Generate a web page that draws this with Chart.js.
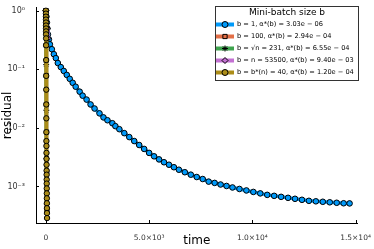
<!DOCTYPE html>
<html lang="en">
<head>
<meta charset="UTF-8">
<title>Residual vs time</title>
<script src="https://cdn.jsdelivr.net/npm/chart.js"></script>
<style>
    body { margin: 0; background: #fff; }
</style>
</head>
<body>
<canvas id="residualChart" width="374" height="249"></canvas>
<script>
// b = 1
const blueTime = [0, 24, 48, 72, 96, 144, 192, 288, 385, 481, 577, 721, 865, 1010, 1154, 1298, 1442, 1635,
    1779, 1971, 2164, 2356, 2596, 2789, 2981, 3221, 3366, 3558, 3798, 4039, 4279, 4519, 4760, 5000, 5241,
    5481, 5722, 5962, 6202, 6443, 6731, 7020, 7308, 7597, 7885, 8174, 8462, 8751, 9039, 9376, 9712, 10049,
    10385, 10722, 11058, 11395, 11732, 12068, 12405, 12741, 13078, 13414, 13751, 14087, 14424, 14712];
const blueResidual = [1.0, 0.792, 0.628, 0.497, 0.394, 0.324, 0.267, 0.220, 0.181, 0.155, 0.128, 0.109,
    0.0937, 0.0802, 0.0687, 0.0588, 0.0504, 0.0415, 0.0355, 0.0304, 0.0251, 0.0214, 0.0177, 0.0151, 0.0135,
    0.0120, 0.0107, 0.0095, 0.00813, 0.00696, 0.00596, 0.00510, 0.00437, 0.00374, 0.00327, 0.00290, 0.00259,
    0.00235, 0.00213, 0.00193, 0.00175, 0.00159, 0.00145, 0.00134, 0.00121, 0.00115, 0.00108, 0.00102,
    0.000962, 0.000907, 0.000856, 0.000807, 0.000762, 0.000719, 0.000692, 0.000665, 0.000640, 0.000616,
    0.000592, 0.000569, 0.000558, 0.000548, 0.000537, 0.000527, 0.000517, 0.000514];

// b = 100
const orangeTime = [0, 4, 10, 16, 22, 30, 40, 50];
const orangeResidual = [1.0, 0.55, 0.257, 0.078, 0.025, 0.0085, 0.0018, 0.00040];

// b = sqrt(n) = 231
const greenTime = [0, 6, 12, 20, 30, 44];
const greenResidual = [1.0, 0.40, 0.12, 0.020, 0.0030, 0.00050];

// b = n = 53500
const purpleTime = [0, 60, 96];
const purpleResidual = [1.0, 0.50, 0.337];

// b = b*(n) = 40
const goldTime = [0, 1, 2, 3, 4, 5, 6, 7, 8, 9, 10, 12, 14, 16, 18, 20, 22, 24, 26, 28, 30, 32, 34, 36,
    38, 40, 42, 44, 46, 48, 50, 52, 54];
const goldResidual = [1.0, 0.89, 0.79, 0.705, 0.628, 0.558, 0.497, 0.443, 0.394, 0.337, 0.257, 0.1436,
    0.0772, 0.0449, 0.0251, 0.01455, 0.00845, 0.00596, 0.00491, 0.00374, 0.00296, 0.00235, 0.00186,
    0.00159, 0.00131, 0.00112, 0.000925, 0.000762, 0.000628, 0.000517, 0.000426, 0.000351, 0.000289];

const legendLabels = [
    'b = 1, α*(b) = 3.03e − 06',
    'b = 100, α*(b) = 2.94e − 04',
    'b = √n = 231, α*(b) = 6.55e − 04',
    'b = n = 53500, α*(b) = 9.40e − 03',
    'b = b*(n) = 40, α*(b) = 1.20e − 04'
];
const legendTitle = 'Mini-batch size b';

const xTicks = [0, 5000, 10000, 15000];
const xTickLabels = ['0', '5.0×10³', '1.0×10⁴', '1.5×10⁴'];
const yTicks = [1e-3, 1e-2, 1e-1, 1];
const yTickLabels = ['10⁻³', '10⁻²', '10⁻¹', '10⁰'];

const pts = (t, r) => t.map((v, i) => ({ x: v, y: r[i] }));

function series(label, t, r, color, style, radius, order) {
    return {
        label: label,
        data: pts(t, r),
        showLine: true,
        borderColor: color,
        backgroundColor: color,
        borderWidth: 3.5,
        pointStyle: style,
        pointRadius: radius,
        pointBorderColor: '#000',
        pointBackgroundColor: color,
        pointBorderWidth: 1,
        order: order
    };
}

const decor = {
    id: 'decor',
    afterDraw(chart) {
        const ctx = chart.ctx;
        const a = chart.chartArea;
        const xs = chart.scales.x, ys = chart.scales.y;
        ctx.save();

        // inward tick marks
        ctx.strokeStyle = '#000';
        ctx.lineWidth = 1;
        xTicks.forEach(v => {
            const px = Math.round(xs.getPixelForValue(v)) + 0.5;
            ctx.beginPath(); ctx.moveTo(px, a.bottom); ctx.lineTo(px, a.bottom - 3); ctx.stroke();
        });
        yTicks.forEach(v => {
            const py = Math.round(ys.getPixelForValue(v)) + 0.5;
            ctx.beginPath(); ctx.moveTo(a.left, py); ctx.lineTo(a.left + 3, py); ctx.stroke();
        });

        // axis titles
        ctx.fillStyle = '#000';
        ctx.font = '12px "DejaVu Sans"';
        ctx.textAlign = 'center';
        ctx.textBaseline = 'middle';
        ctx.fillText('time', (a.left + a.right) / 2, 241);
        ctx.save();
        ctx.translate(8, (a.top + a.bottom) / 2);
        ctx.rotate(-Math.PI / 2);
        ctx.fillText('residual', 0, 0);
        ctx.restore();

        // legend box
        const bx = 215.5, by = 6.5, bw = 143, bh = 74;
        ctx.fillStyle = '#fff';
        ctx.fillRect(bx, by, bw, bh);
        ctx.strokeStyle = '#333';
        ctx.strokeRect(bx, by, bw, bh);
        ctx.fillStyle = '#000';
        ctx.font = '9px "DejaVu Sans"';
        ctx.fillText(legendTitle, bx + bw / 2, 13);

        // fit legend text into the box width
        ctx.font = '10px "DejaVu Sans"';
        const widest = Math.max(...legendLabels.map(l => ctx.measureText(l).width));
        const fs = Math.min(8, 10 * 117 / widest);

        const rows = [24.5, 36.5, 48.5, 60.5, 72.5];
        chart.data.datasets.forEach((ds, i) => {
            const y = rows[i];
            ctx.strokeStyle = ds.borderColor;
            ctx.lineWidth = 4;
            ctx.beginPath(); ctx.moveTo(216, y); ctx.lineTo(234, y); ctx.stroke();
            ctx.fillStyle = ds.pointBackgroundColor;
            ctx.strokeStyle = '#000';
            ctx.lineWidth = 1;
            Chart.helpers.drawPoint(ctx, { pointStyle: ds.pointStyle, radius: 3, rotation: 0, borderWidth: 1 }, 225, y);
            ctx.fillStyle = '#000';
            ctx.font = fs + 'px "DejaVu Sans"';
            ctx.textAlign = 'left';
            ctx.fillText(legendLabels[i], 237, y);
        });
        ctx.restore();
    }
};

const ctx = document.getElementById('residualChart').getContext('2d');
const residualChart = new Chart(ctx, {
    type: 'scatter',
    data: {
        datasets: [
            series(legendLabels[0], blueTime, blueResidual, '#009AFA', 'circle', 2.8, 5),
            series(legendLabels[1], orangeTime, orangeResidual, '#E36F47', 'rect', 3, 4),
            series(legendLabels[2], greenTime, greenResidual, '#3EA44E', 'star', 3, 3),
            series(legendLabels[3], purpleTime, purpleResidual, '#C371D2', 'rectRot', 3, 2),
            series(legendLabels[4], goldTime, goldResidual, '#AC8D18', 'circle', 2.7, 1)
        ]
    },
    options: {
        responsive: false,
        animation: false,
        layout: { padding: { top: 5, right: 14, left: 0, bottom: 0 } },
        plugins: { legend: { display: false }, tooltip: { enabled: false } },
        scales: {
            x: {
                type: 'linear',
                min: -480,
                max: 15100,
                afterBuildTicks: s => { s.ticks = xTicks.map(v => ({ value: v })); },
                afterFit: s => { s.height = 26; },
                grid: { display: false },
                border: { display: true, color: '#000', width: 1 },
                ticks: {
                    padding: 3,
                    maxRotation: 0,
                    color: '#333',
                    font: { family: 'DejaVu Sans', size: 7.5 },
                    callback: (v) => xTickLabels[xTicks.indexOf(v)]
                }
            },
            y: {
                type: 'logarithmic',
                min: 2.38e-4,
                max: 1.12,
                afterBuildTicks: s => { s.ticks = yTicks.map(v => ({ value: v })); },
                afterFit: s => { s.width = 36; },
                grid: { display: false },
                border: { display: true, color: '#000', width: 1 },
                ticks: {
                    padding: 3,
                    color: '#333',
                    font: { family: 'DejaVu Sans', size: 8 },
                    callback: (v) => yTickLabels[yTicks.indexOf(v)]
                }
            }
        }
    },
    plugins: [decor]
});
</script>
</body>
</html>
